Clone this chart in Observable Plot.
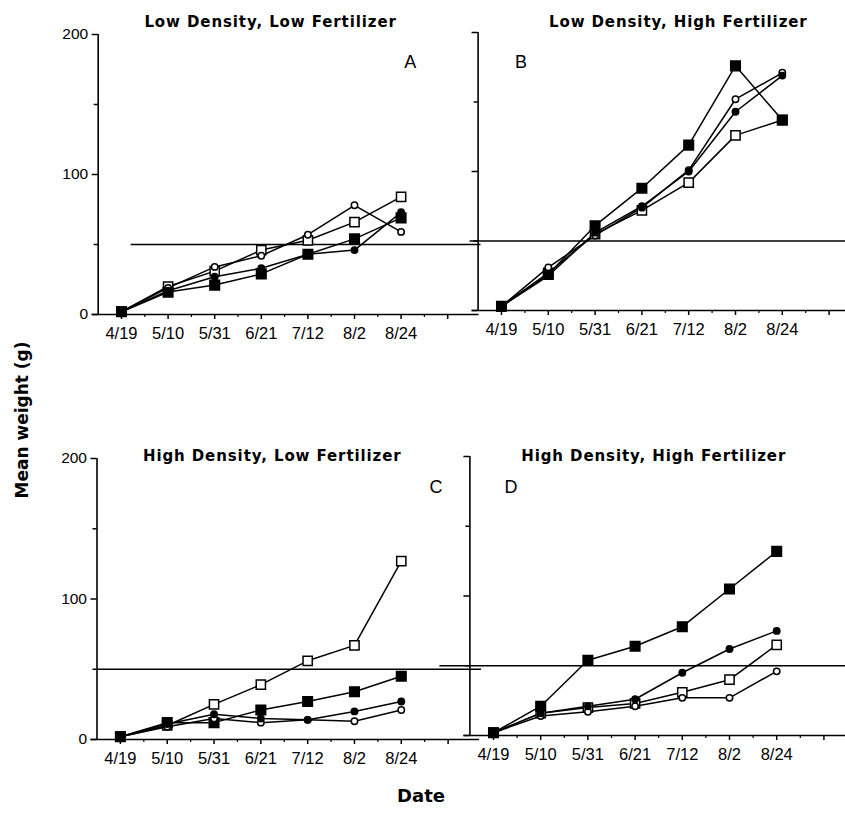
<!DOCTYPE html>
<html>
<head>
<meta charset="utf-8">
<script src="https://cdn.jsdelivr.net/npm/d3@7"></script>
<script src="https://cdn.jsdelivr.net/npm/@observablehq/plot@0.6"></script>
<style>
  html, body { margin: 0; padding: 0; background: #fff; overflow: hidden; }
  #chart { position: relative; width: 845px; height: 820px; font-family: "Liberation Sans", Arial, sans-serif; }
  #chart svg { position: absolute; left: 0; top: 0; }
  #chart svg g[font-weight="bold"] { letter-spacing: 0.9px; }
  .ylabel { position: absolute; left: 22px; top: 420px; transform: translate(-50%, -50%) rotate(-90deg);
            font-family: "DejaVu Sans", sans-serif; font-weight: bold; font-size: 17px; white-space: nowrap; }
  .xlabel { position: absolute; left: 421px; top: 795px; transform: translate(-50%, -50%);
            font-family: "DejaVu Sans", sans-serif; font-weight: bold; font-size: 18px; }
</style>
</head>
<body>
<div id="chart">
  <div class="ylabel">Mean weight (g)</div>
  <div class="xlabel">Date</div>
</div>
<script>
// Sampling dates (x categories)
const dates = ["4/19", "5/10", "5/31", "6/21", "7/12", "8/2", "8/24"];

// Panel titles and letters
const titles = [
  "Low Density, Low Fertilizer",
  "Low Density, High Fertilizer",
  "High Density, Low Fertilizer",
  "High Density, High Fertilizer"
];
const letters = ["A", "B", "C", "D"];

// Reference weight line (g)
const refWeight = 50;

// Mean weight (g) per date, four treatment series per panel
const aOpenSquare   = [2, 20, 31, 46, 53, 66, 84];
const aFilledSquare = [2, 16, 21, 29, 43, 54, 69];
const aOpenCircle   = [2, 19, 34, 42, 57, 78, 59];
const aFilledCircle = [2, 17, 27, 33, 43, 46, 73];

const bOpenSquare   = [3, 27, 55, 72, 92, 126, 137];
const bFilledSquare = [3, 26, 61, 88, 119, 176, 137];
const bOpenCircle   = [3, 31, 54, 74, 101, 152, 171];
const bFilledCircle = [3, 25, 56, 75, 100, 143, 169];

const cOpenSquare   = [2, 10, 25, 39, 56, 67, 127];
const cFilledSquare = [2, 12, 12, 21, 27, 34, 45];
const cOpenCircle   = [2, 9, 15, 12, 14, 13, 21];
const cFilledCircle = [2, 11, 18, 15, 14, 20, 27];

const dOpenSquare   = [2, 16, 20, 23, 31, 40, 65];
const dFilledSquare = [2, 21, 54, 64, 78, 105, 132];
const dOpenCircle   = [2, 14, 17, 21, 27, 27, 46];
const dFilledCircle = [2, 16, 21, 26, 45, 62, 75];

const seriesByPanel = [
  {openSquare: aOpenSquare, filledSquare: aFilledSquare, openCircle: aOpenCircle, filledCircle: aFilledCircle},
  {openSquare: bOpenSquare, filledSquare: bFilledSquare, openCircle: bOpenCircle, filledCircle: bFilledCircle},
  {openSquare: cOpenSquare, filledSquare: cFilledSquare, openCircle: cOpenCircle, filledCircle: cFilledCircle},
  {openSquare: dOpenSquare, filledSquare: dFilledSquare, openCircle: dOpenCircle, filledCircle: dFilledCircle}
];

// Page layout of each panel's frame (pixels) and text offsets
const W = 845, H = 820;
const layout = [
  {left: 97.7, right: 470.5, top: 34, bottom: 314, labels: true,  refInset: 33,  titleDx: -14, titleDy: -18, letterDx: 312, letterDy: 21},
  {left: 477.6, right: 852,  top: 32, bottom: 310, labels: false, refInset: -8,  titleDx: 13,  titleDy: -16, letterDx: 43,  letterDy: 23},
  {left: 96.5, right: 471,   top: 458, bottom: 739, labels: true, refInset: 0,   titleDx: -12, titleDy: -8,  letterDx: 339, letterDy: 22},
  {left: 469.4, right: 847,  top: 456, bottom: 735, labels: false, refInset: -30, titleDx: -5,  titleDy: -6,  letterDx: 41,  letterDy: 24}
];

const styles = {
  openSquare:   {symbol: "square", r: 5.2, fill: "white"},
  filledSquare: {symbol: "square", r: 5.4, fill: "black"},
  openCircle:   {symbol: "circle", r: 3.2, fill: "white"},
  filledCircle: {symbol: "circle", r: 3.2, fill: "black"}
};

function panel(k) {
  const L = layout[k];
  const series = seriesByPanel[k];
  const rows = [];
  for (const [name, values] of Object.entries(series)) {
    values.forEach((v, i) => rows.push({i, date: dates[i], v, s: name}));
  }
  const dotMarks = Object.keys(styles).map(name =>
    Plot.dot(rows.filter(d => d.s === name), {
      x: "i", y: "v", symbol: styles[name].symbol, r: styles[name].r,
      fill: styles[name].fill, stroke: "black", strokeWidth: 1.5
    })
  );
  return Plot.plot({
    width: W, height: H,
    marginLeft: L.left, marginRight: W - L.right,
    marginTop: L.top, marginBottom: H - L.bottom,
    style: {fontFamily: "Liberation Sans, Arial, sans-serif", background: "transparent", overflow: "hidden"},
    x: {domain: [-0.5, 7.5]},
    y: {domain: [0, 200]},
    marks: [
      Plot.ruleY([refWeight], {stroke: "black", strokeWidth: 1.4, insetLeft: L.refInset, insetRight: -10}),
      Plot.ruleX([-0.5], {y1: 0, y2: 200, stroke: "black", strokeWidth: 1.6}),
      Plot.ruleY([0], {stroke: "black", strokeWidth: 1.6, insetLeft: -6, insetRight: -8}),
      Plot.axisY({ticks: [0, 100, 200], tickSize: 6, tickPadding: 4, strokeWidth: 1.5, fontSize: 15.5, label: null,
                  tickFormat: L.labels ? d => String(d) : () => ""}),
      Plot.axisY({ticks: [50, 150], tickSize: 4, strokeWidth: 1.5, label: null, tickFormat: () => ""}),
      Plot.axisX({ticks: d3.range(8), tickSize: 5, tickPadding: 8, strokeWidth: 1.5, fontSize: 16.5, label: null,
                  tickFormat: i => dates[i] ?? ""}),
      Plot.axisX({ticks: d3.range(7).map(i => i + 0.5), tickSize: 3, strokeWidth: 1.2, label: null, tickFormat: () => ""}),
      Plot.line(rows, {x: "i", y: "v", z: "s", stroke: "black", strokeWidth: 1.5}),
      ...dotMarks,
      Plot.text([titles[k]], {frameAnchor: "top", dx: L.titleDx, dy: L.titleDy, fontWeight: "bold",
                              fontSize: 15, fontFamily: "DejaVu Sans, sans-serif"}),
      Plot.text([letters[k]], {frameAnchor: "top-left", textAnchor: "middle", dx: L.letterDx, dy: L.letterDy,
                               fontSize: 18})
    ]
  });
}

const chart = document.getElementById("chart");
for (let k = 0; k < 4; k++) chart.appendChild(panel(k));
</script>
</body>
</html>
